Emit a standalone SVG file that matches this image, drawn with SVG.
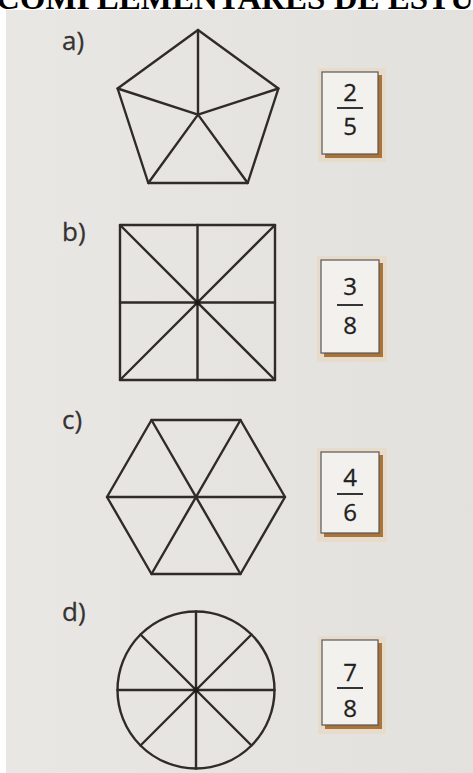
<svg xmlns="http://www.w3.org/2000/svg" width="473" height="773" viewBox="0 0 473 773">
<defs>
<style>
.fig{fill:none;stroke:#2f2b27;stroke-width:2.4;stroke-linejoin:round;stroke-linecap:round}
.lbl{font-family:"Open Sans","Liberation Sans",sans-serif;font-size:26px;fill:#353331;stroke:#353331;stroke-width:0.3}
.dig{font-family:"Open Sans","Liberation Sans",sans-serif;font-size:24px;fill:#1f1f1f;text-anchor:middle;stroke:#1f1f1f;stroke-width:0.3}
.card{fill:#f3f1ee;stroke:#5a5652;stroke-width:1.2}
.shadow{fill:#a8743a}
.glow{fill:#f0c890;opacity:0.25}
.bar{stroke:#1f1f1f;stroke-width:1.8}
.dot{fill:#1e1b18}
</style>
<linearGradient id="bg" x1="0" y1="0" x2="1" y2="0">
<stop offset="0" stop-color="#e9e7e4"/>
<stop offset="1" stop-color="#e3e1de"/>
</linearGradient>
</defs>
<rect x="0" y="0" width="473" height="773" fill="#ffffff"/>
<rect x="6" y="10" width="467" height="763" fill="url(#bg)"/>
<text x="-4" y="9" font-family="Liberation Serif,serif" font-weight="bold" font-size="33" fill="#000">COMPLEMENTARES DE ESTUD</text>

<g id="label-a"><text class="lbl" x="62" y="50">a)</text></g>
<g id="label-b"><text class="lbl" x="62" y="241">b)</text></g>
<g id="label-c"><text class="lbl" x="62" y="429">c)</text></g>
<g id="label-d"><text class="lbl" x="62" y="621">d)</text></g>

<g id="pentagon">
<polygon class="fig" points="198,30 278.4,88.5 247.7,183 148.3,183 117.6,88.5"/>
<path class="fig" d="M198,114.6 L198,30 M198,114.6 L278.4,88.5 M198,114.6 L247.7,183 M198,114.6 L148.3,183 M198,114.6 L117.6,88.5"/>
</g>

<g id="square">
<rect class="fig" x="120" y="225" width="155" height="155"/>
<path class="fig" d="M120,225 L275,380 M275,225 L120,380 M197.5,225 L197.5,380 M120,302.5 L275,302.5"/>
<circle class="dot" cx="197.5" cy="302.5" r="2.6"/>
</g>

<g id="hexagon">
<polygon class="fig" points="107,497 151.5,420 240.5,420 285,497 240.5,574 151.5,574"/>
<path class="fig" d="M107,497 L285,497 M151.5,420 L240.5,574 M240.5,420 L151.5,574"/>
</g>

<g id="circle">
<circle class="fig" cx="196" cy="690" r="78.5"/>
<path class="fig" d="M196,611.5 L196,768.5 M117.5,690 L274.5,690 M140.5,634.5 L251.5,745.5 M251.5,634.5 L140.5,745.5"/>
<circle class="dot" cx="196" cy="690" r="2.6"/>
</g>

<g id="card-a">
<rect class="glow" x="318" y="68" width="68" height="94"/>
<rect class="shadow" x="325" y="75" width="57" height="83"/>
<rect class="card" x="322" y="72" width="56" height="82"/>
<text class="dig" x="350" y="101">2</text>
<line class="bar" x1="337" y1="108" x2="363" y2="108"/>
<text class="dig" x="350" y="135">5</text>
</g>

<g id="card-b">
<rect class="glow" x="317" y="256" width="70" height="106"/>
<rect class="shadow" x="324" y="263" width="59" height="94"/>
<rect class="card" x="321" y="260" width="58" height="93"/>
<text class="dig" x="350" y="295">3</text>
<line class="bar" x1="337" y1="305" x2="363" y2="305"/>
<text class="dig" x="350" y="334">8</text>
</g>

<g id="card-c">
<rect class="glow" x="317" y="448" width="70" height="94"/>
<rect class="shadow" x="324" y="455" width="59" height="82"/>
<rect class="card" x="321" y="452" width="58" height="81"/>
<text class="dig" x="350" y="486">4</text>
<line class="bar" x1="337" y1="494" x2="363" y2="494"/>
<text class="dig" x="350" y="521">6</text>
</g>

<g id="card-d">
<rect class="glow" x="318" y="636" width="68" height="98"/>
<rect class="shadow" x="325" y="643" width="57" height="86"/>
<rect class="card" x="322" y="640" width="56" height="85"/>
<text class="dig" x="350" y="681">7</text>
<line class="bar" x1="337" y1="688" x2="363" y2="688"/>
<text class="dig" x="350" y="717">8</text>
</g>
</svg>
